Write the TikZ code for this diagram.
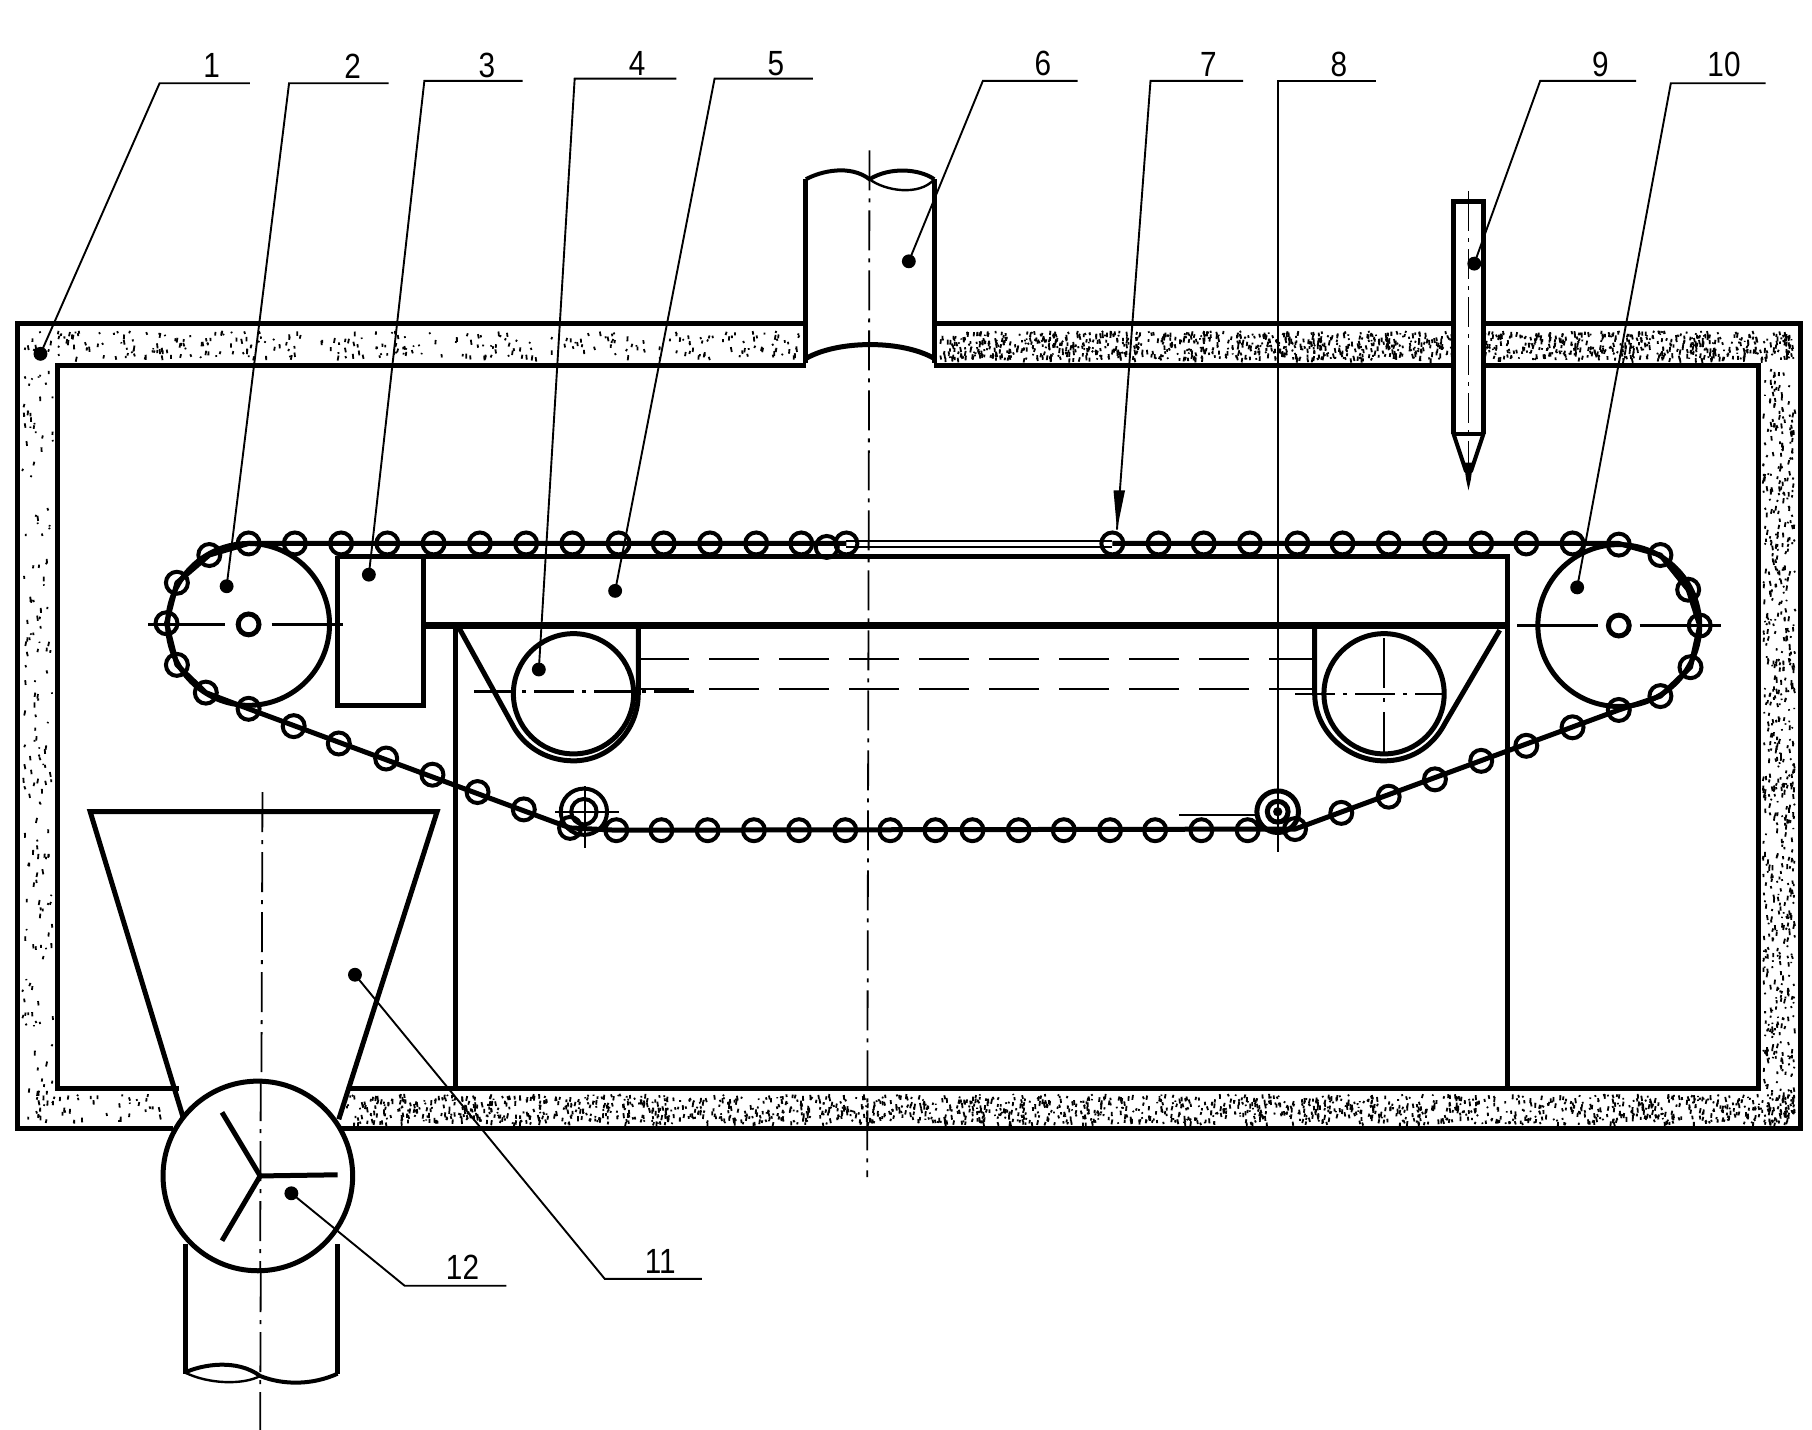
\documentclass[tikz,border=0pt]{standalone}
\usepackage{fontspec}
\setmainfont{Liberation Sans}
\tikzset{
  thick line/.style={line width=5pt,line join=miter},
  mid line/.style={line width=4pt},
  thin line/.style={line width=1.9pt},
  center line/.style={line width=1.8pt,dash pattern=on 40pt off 8pt on 4pt off 8pt},
  roller/.style={line width=4pt},
  tag/.style={inner sep=0pt,font=\fontsize{35}{35}\selectfont,xscale=.85},
  spot/.style={fill=black}
}
\newcommand{\speckband}[5]{%
  \foreach \k in {1,...,#5}{%
    \pgfmathsetmacro{\px}{#1+rnd*(#2-#1)}%
    \pgfmathsetmacro{\py}{#3+rnd*(#4-#3)}%
    \pgfmathsetmacro{\dx}{(rnd-.5)*2}%
    \pgfmathsetmacro{\dy}{1+rnd*3.5}%
    \draw[line width=1.8pt] (\px,\py) -- ++(\dx,\dy);
  }%
}
\begin{document}
\begin{tikzpicture}[x=1.1563pt,y=-1.1563pt]
\pgfmathsetseed{4242}
\fill[white] (0,0) rectangle (1567.1,1236.7);
\useasboundingbox (0,0) rectangle (1567.1,1236.7);
% speckled insulation
\speckband{20}{692}{286}{309}{300}
\speckband{812}{1552}{286}{310}{1300}
\speckband{20}{46}{318}{970}{170}
\speckband{1525}{1552}{318}{970}{650}
\speckband{20}{155}{945}{970}{40}
\speckband{300}{1552}{946}{971}{1700}
% white interiors
\fill[white] (697,152) rectangle (808,322);
\fill[white] (78,702) -- (378,702) -- (293,975) -- (161,975) -- cycle;
\fill[white] (1257,174) rectangle (1283,375);
% casing
\draw[thick line] (697,280) -- (15,280) -- (15,976) -- (150,976);
\draw[thick line] (697,316) -- (50,316) -- (50,941) -- (155,941);
\draw[thick line] (808,280) -- (1257,280) (1283,280) -- (1557,280) -- (1557,976) -- (295,976);
\draw[thick line] (808,316) -- (1257,316) (1283,316) -- (1521,316) -- (1521,941) -- (300,941);
% feed pipe 6
\draw[thick line] (697,314) -- (697,155) (808,155) -- (808,314);
\draw[mid line] (697,155) .. controls (710,148) and (735,142) .. (752,155) .. controls (770,144) and (795,146) .. (808,155);
\draw[line width=2.4pt] (752,155) .. controls (765,165) and (795,170) .. (808,155);
\draw[thick line] (697,310) .. controls (725,294) and (780,294) .. (808,310);
% burner 9
\draw[thick line] (1257,375) -- (1257,174) -- (1283,174) -- (1283,375);
\draw[mid line] (1257,375) -- (1283,375);
\draw[mid line] (1257,375) -- (1268,408) (1283,375) -- (1272,408);
\fill (1266,400) -- (1274,400) -- (1272,415) -- (1270,424) -- (1268,415) -- cycle;
% support walls and beam
\draw[thick line] (292,481) -- (1304,481) -- (1304,941);
\draw[thick line] (292,481) -- (292,610) -- (366,610) -- (366,481);
\draw[line width=6.5pt] (366,541) -- (1304,541);
\draw[thick line] (394,541) -- (394,941);
% rollers and wraps
\draw[thick line] (496,600) circle[radius=52];
\draw[thick line] (1197,600) circle[radius=52];
\draw[thick line] (552,541) -- (552,600) .. controls (552,632) and (527,658) .. (496,658) .. controls (475,658) and (456,648) .. (445,630) -- (397,543);
\draw[thick line] (1137,541) -- (1137,600) .. controls (1137,632) and (1165,658) .. (1197,658) .. controls (1218,658) and (1238,648) .. (1250,625) -- (1297,545);
\draw[line width=2.4pt,dash pattern=on 50pt off 20pt] (553,570) -- (1137,570);
\draw[line width=2.4pt,dash pattern=on 50pt off 20pt] (553,596) -- (1137,596);
\draw[line width=2.2pt,dash pattern=on 40pt off 8pt on 4pt off 8pt] (410,598) -- (600,598);
\draw[line width=2.2pt,dash pattern=on 40pt off 8pt on 4pt off 8pt] (1120,600) -- (1250,600);
\draw[line width=2.2pt,dash pattern=on 50pt off 10pt on 4pt off 10pt] (1197,552) -- (1197,650);
% sprockets
\draw[thick line] (215,540) circle[radius=70];
\draw[thick line] (1400,541) circle[radius=70];
\draw[thick line] (215,540) circle[radius=9];
\draw[thick line] (1400,541) circle[radius=9];
\draw[line width=2.4pt] (128,540) -- (195,540) (235,540) -- (297,540);
\draw[line width=2.4pt] (1312,541) -- (1382,541) (1418,541) -- (1488,541);
% centre lines
\draw[center line] (752,130) -- (750,1018);
\draw[center line] (227,685) -- (225,1237);
\draw[line width=1.6pt] (1270,165) -- (1270,174);
\draw[line width=1.8pt,dash pattern=on 30pt off 7pt on 4pt off 7pt] (1270,174) -- (1270,400);
% hopper and rotary valve
\draw[thick line] (161,975) -- (78,702) -- (378,702) -- (293,968);
\draw[thick line,fill=white] (223,1017) circle[radius=82];
\draw[center line] (225.5,935) -- (225,1098);
\draw[thick line] (192,962) -- (225,1017) -- (292,1016);
\draw[thick line] (225,1017) -- (192,1073);
\draw[thick line] (160,1076) -- (160,1188) (292,1076) -- (292,1188);
\draw[mid line] (160,1187) .. controls (175,1180) and (205,1175) .. (225,1190) .. controls (245,1198) and (270,1198) .. (292,1188);
\draw[line width=2.4pt] (160,1187) .. controls (180,1197) and (210,1198) .. (225,1190);
% tension wheels
\draw[mid line] (505,702) circle[radius=20] (505,702) circle[radius=11];
\draw[line width=5pt] (1105,702) circle[radius=18] (1105,702) circle[radius=9];
\fill (1105,702) circle[radius=4];
\draw[line width=2.2pt] (480,702) -- (535,702) (506,680) -- (506,733);
\draw[line width=2.2pt] (1020,705) -- (1085,705);
% chain
\draw[line width=5pt,line join=round]
 (215,470) -- (732,470)
 (962,470) -- (1400,470) -- (1436,480) -- (1460,510) -- (1470,541) -- (1462,577) -- (1436,602) -- (1400,614)
 -- (1120,717) -- (533,718) -- (493,716) -- (215,613) -- (178,599) -- (153,575) -- (144,539) -- (153,504) -- (181,480) -- (215,470);
\draw[line width=2pt] (732,468) -- (962,468) (732,473) -- (962,473);
\foreach \p in {(215,470),(255,470),(295,470),(335,470),(375,470),(415,470),(455,470),(495,470),(535,470),(574,470),(614,470),(654,470),(693,470),(715,473),(732,470),
 (962,470),(1002,470),(1041,470),(1081,470),(1122,470),(1161,470),(1201,470),(1241,470),(1281,470),(1320,470),(1360,470),(1400,471),
 (1436,480),(1460,510),(1470,541),(1462,577),(1436,602),(1400,614),(1360,629),(1320,645),(1281,658),(1241,674),(1201,689),(1160,703),(1120,717),
 (1079,718),(1039,718),(999,718),(960,718),(920,718),(881,718),(841,718),(809,718),(770,718),(731,718),(691,718),(652,718),(612,718),(572,718),(533,718),(493,716),
 (453,700),(413,685),(374,670),(334,656),(293,643),(254,628),(215,613),(178,599),(153,575),(144,539),(153,504),(181,480)}
  \draw[roller] \p circle[radius=9.5];
% leaders and labels
\foreach \name/\dx/\dy/\ax/\ay/\bx/\by/\tx/\ty/\lab in {
  a/35/306/138/72/216/72/183/57/1,
  b/196/507/250/72/336/72/305/57/2,
  c/319/497/367/70/452/70/421/57/3,
  d/466/579/497/68/585/68/551/55/4,
  e/532/511/618/68/703/68/671/55/5,
  f/786/226/850/70/932/70/902/55/6,
  i/1275/228/1332/70/1415/70/1384/56/9,
  j/1364/508/1445/72/1527/72/1491/56/10,
  k/307/843/523/1106/607/1106/571/1091/11,
  l/252/1032/350/1112/438/1112/400/1096/12}{
  \coordinate (\name0) at (\dx,\dy);
  \coordinate (\name1) at (\ax,\ay);
  \coordinate (\name2) at (\bx,\by);
  \node[tag] (\name t) at (\tx,\ty) {\lab};
  \fill[spot] (\name0) circle[radius=6];
  \draw[thin line] (\name0) -- (\name1) -- (\name2);
}
\coordinate (g0) at (966,458);
\coordinate (g1) at (995,70);
\coordinate (g2) at (1075,70);
\node[tag] (gt) at (1045,56) {7};
\draw[thin line] (g0) -- (g1) -- (g2);
\fill (963,424) -- (973,424) -- (966,458) -- cycle;
\coordinate (h0) at (1105,700);
\coordinate (h1) at (1105,70);
\coordinate (h2) at (1190,70);
\node[tag] (ht) at (1158,56) {8};
\draw[thin line] (h0) -- (h1) -- (h2);
\draw[line width=1.8pt] (1105,680) -- (1105,737);
\end{tikzpicture}
\end{document}
